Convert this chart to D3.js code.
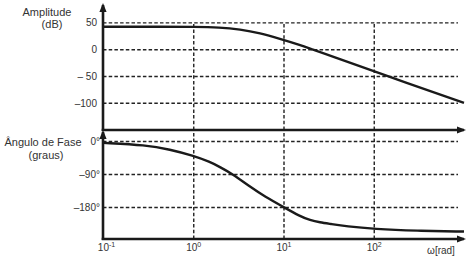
<!DOCTYPE html>
<html>
<head>
<meta charset="utf-8">
<script src="https://cdn.jsdelivr.net/npm/d3@7"></script>
<style>
body { margin:0; background:#fff; }
svg text { font-family:"Liberation Sans", Arial, sans-serif; fill:#333; }
.grid line { stroke:#222; stroke-width:1.4; stroke-dasharray:3.5,2.2; }
.grid path { display:none; }
.ticklab path, .ticklab line { display:none; }
.ticklab text { font-size:10px; }
.curve { fill:none; stroke:#1a1a1a; stroke-width:2.4; }
.ax { stroke:#1a1a1a; stroke-width:2.6; }
</style>
</head>
<body>
<svg id="chart" width="471" height="261"></svg>
<script>
// values
var ampW   = [0.1, 0.5, 1, 1.98, 3.3, 5.5, 9.1, 15.2, 20.7, 32.7, 100, 1000];
var ampDb  = [42, 42, 41.8, 40.8, 37, 30, 19.5, 8, 0, -11.5, -41.5, -100];
var phaseW = [0.1, 0.3, 0.55, 1, 1.53, 1.98, 2.73, 4.26, 6.24, 10, 15.2, 19.7, 25.4, 32.7, 50, 100, 300, 1000];
var phaseDeg = [-5, -11, -23, -40, -57, -71, -90, -125, -152, -180, -205, -216, -222, -226, -233, -240, -245, -247];
var ampTicks = [50, 0, -50, -100];
var ampTickLabels = ["50", "0", "\u2013 50", "\u2013100"];
var phaseTicks = [0, -90, -180];
var phaseTickLabels = ["0\u00b0", "\u201390\u00b0", "\u2013180\u00b0"];
var freqTicks = [0.1, 1, 10, 100];
var freqExp = ["-1", "0", "1", "2"];

var svg = d3.select("#chart");
var x0 = 103, x1 = 464;

var x = d3.scaleLog().domain([0.1, 1000]).range([x0, x1]);
var yA = d3.scaleLinear().domain([-100, 50]).range([102.8, 22.4]);
var yP = d3.scaleLinear().domain([-180, 0]).range([207, 141]);

// grid, upper panel
svg.append("g").attr("class","grid")
	.attr("transform","translate("+x0+",0)")
	.call(d3.axisLeft(yA).tickValues(ampTicks).tickSize(-(458-x0)).tickFormat(""));
svg.append("g").attr("class","grid")
	.attr("transform","translate(0,130)")
	.call(d3.axisBottom(x).tickValues([1,10,100]).tickSize(-(130-22)).tickFormat(""));

// grid, lower panel
svg.append("g").attr("class","grid")
	.attr("transform","translate("+x0+",0)")
	.call(d3.axisLeft(yP).tickValues(phaseTicks).tickSize(-(458-x0)).tickFormat(""));
svg.append("g").attr("class","grid")
	.attr("transform","translate(0,239)")
	.call(d3.axisBottom(x).tickValues([1,10,100]).tickSize(-(239-131)).tickFormat(""));

// tick labels
svg.append("g").attr("class","ticklab")
	.attr("transform","translate("+x0+",0)")
	.call(d3.axisLeft(yA).tickValues(ampTicks).tickSize(0).tickPadding(6)
		.tickFormat(function(d,i){ return ampTickLabels[i]; }));
svg.append("g").attr("class","ticklab")
	.attr("transform","translate("+x0+",0)")
	.call(d3.axisLeft(yP).tickValues(phaseTicks).tickSize(0).tickPadding(3)
		.tickFormat(function(d,i){ return phaseTickLabels[i]; }));

var bx = svg.append("g").attr("class","ticklab")
	.attr("transform","translate(0,239)")
	.call(d3.axisBottom(x).tickValues(freqTicks).tickSize(0).tickPadding(5).tickFormat(""));
bx.selectAll(".tick text").each(function(d,i){
	var t = d3.select(this).attr("dx", i==0 ? 3 : 0);
	t.append("tspan").text("10");
	t.append("tspan").attr("dy","-4").attr("font-size","7px").text(freqExp[i]);
});

// curves
var line = d3.line().curve(d3.curveBasis);
svg.append("path").attr("class","curve")
	.attr("d", line(ampW.map(function(w,i){ return [x(w), yA(ampDb[i])]; })));
svg.append("path").attr("class","curve")
	.attr("d", line(phaseW.map(function(w,i){ return [x(w), yP(phaseDeg[i])]; })));

// axes with arrows
function arrowAxis(xa, ya, xb, yb) {
	svg.append("line").attr("class","ax")
		.attr("x1",xa).attr("y1",ya).attr("x2",xb).attr("y2",yb);
	var ang = Math.atan2(yb-ya, xb-xa), L = 9, W = 3.6;
	var tipX = xb + Math.cos(ang)*2, tipY = yb + Math.sin(ang)*2;
	var bxp = tipX - Math.cos(ang)*L, byp = tipY - Math.sin(ang)*L;
	svg.append("path").attr("fill","#1a1a1a")
		.attr("d","M"+tipX+","+tipY+"L"+(bxp - Math.sin(ang)*W)+","+(byp + Math.cos(ang)*W)+
			"L"+(bxp + Math.sin(ang)*W)+","+(byp - Math.cos(ang)*W)+"Z");
}
arrowAxis(x0, 131, x0, 5);
arrowAxis(x0-1.3, 130, 464, 130);
arrowAxis(x0, 240, x0, 132);
arrowAxis(x0-1.3, 239, 464, 239);

// titles
svg.append("text").attr("x",47).attr("y",16).attr("text-anchor","middle").attr("font-size","11px").text("Amplitude");
svg.append("text").attr("x",52).attr("y",28).attr("text-anchor","middle").attr("font-size","11px").text("(dB)");
svg.append("text").attr("x",43).attr("y",146).attr("text-anchor","middle").attr("font-size","11px").text("\u00c2ngulo de Fase");
svg.append("text").attr("x",46).attr("y",159).attr("text-anchor","middle").attr("font-size","11px").text("(graus)");
svg.append("text").attr("x",441).attr("y",254).attr("text-anchor","middle").attr("font-size","10px").text("\u03c9[rad]");
</script>
</body>
</html>
